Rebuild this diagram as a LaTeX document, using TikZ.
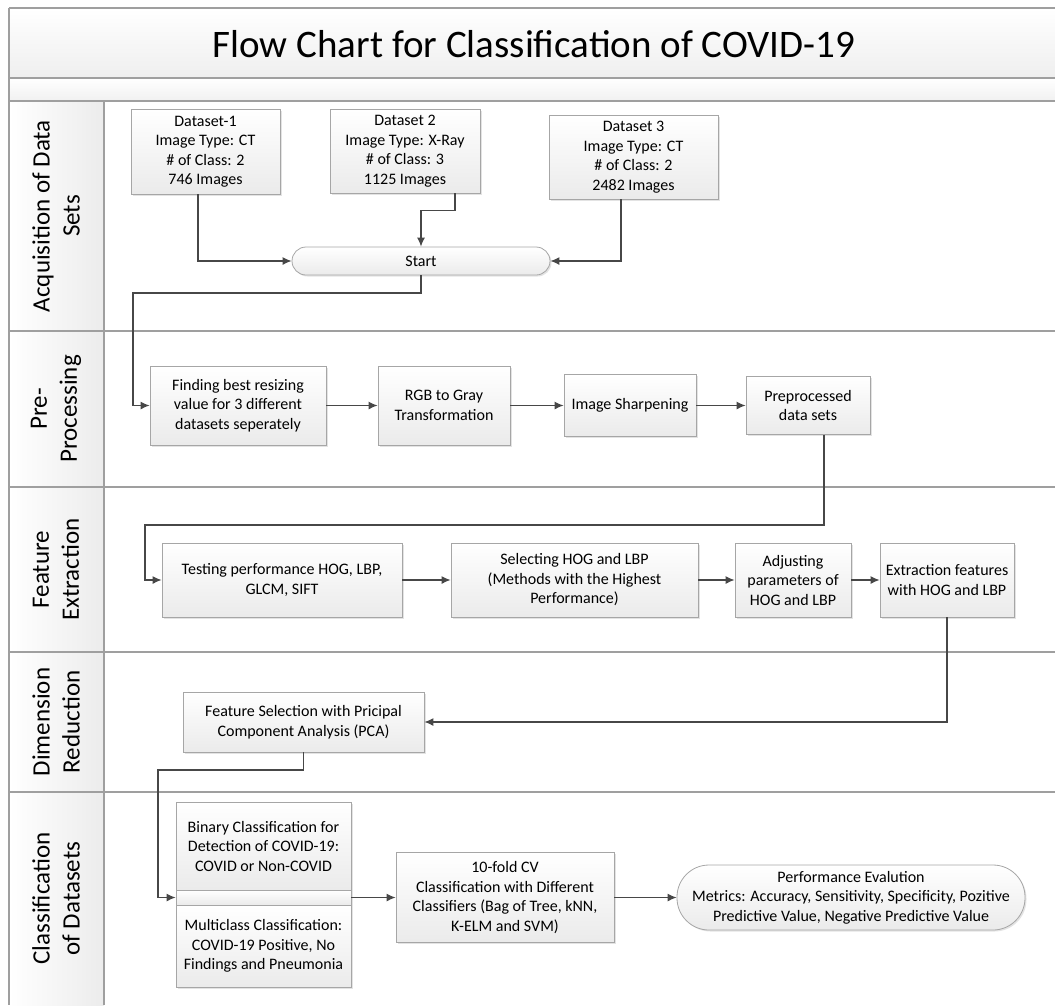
\documentclass[tikz,border=0pt]{standalone}
\usepackage{fontspec}
\setmainfont{Carlito}
\usetikzlibrary{arrows.meta,shadows}
\begin{document}
\begin{tikzpicture}[x=1pt,y=-1pt,
  frameline/.style={draw=gray!75, line width=1.1pt},
  box/.style={draw=gray!70, line width=0.8pt, top color=white, bottom color=gray!16,
    align=center, inner sep=2pt, font=\fontsize{16}{19.5}\selectfont,
    drop shadow={opacity=0.22, shadow xshift=1.5pt, shadow yshift=-1.5pt}},
  term/.style={box},
  conn/.style={draw=black!72, line width=1.2pt},
  arr/.style={conn, -{Latex[length=9pt,width=8pt]}},
  lane/.style={rotate=90, align=center, font=\fontsize{25}{30}\selectfont}
]
\useasboundingbox (0,0) rectangle (1055,1005);
% frame and lanes
\shade[top color=white, bottom color=gray!13] (9,8) rectangle (1055,78);
\shade[top color=white, bottom color=gray!11] (9,78) rectangle (1055,101);
\shade[left color=white, right color=gray!15] (9,101) rectangle (104,1005);
\foreach \yy in {8,78,101,331,487,652,792} \draw[frameline] (9,\yy) -- (1055,\yy);
\draw[frameline] (9,8) -- (9,1005);
\draw[frameline] (104,101) -- (104,1005);
\node[font=\fontsize{39}{45}\selectfont] (title) at (534,44) {Flow Chart for Classification of COVID-19};
\node[lane] (l1) at (56,216) {Acquisition of Data\\Sets};
\node[lane] (l2) at (56,409) {Pre-\\Processing};
\node[lane] (l3) at (56,569.5) {Feature\\Extraction};
\node[lane] (l4) at (56,722) {Dimension\\Reduction};
\node[lane] (l5) at (56,898.5) {Classification\\of Datasets};
% nodes
\node[box, minimum width=149pt, minimum height=85pt] (d1) at (205.5,151.5) {Dataset-1\\Image Type: CT\\\# of Class: 2\\746 Images};
\node[box, minimum width=150pt, minimum height=84pt] (d2) at (405,151) {Dataset 2\\Image Type: X-Ray\\\# of Class: 3\\1125 Images};
\node[box, minimum width=169pt, minimum height=84pt] (d3) at (633.5,157) {Dataset 3\\Image Type: CT\\\# of Class: 2\\2482 Images};
\node[term, minimum width=258pt, minimum height=28pt, rounded corners=14pt] (start) at (421,261) {Start};
\node[box, minimum width=176pt, minimum height=79pt] (find) at (238,405.5) {Finding best resizing\\value for 3 different\\datasets seperately};
\node[box, minimum width=132pt, minimum height=79pt] (rgb) at (444,405.5) {RGB to Gray\\Transformation};
\node[box, minimum width=132pt, minimum height=62pt] (sharp) at (630,405.5) {Image Sharpening};
\node[box, minimum width=124pt, minimum height=58pt] (prep) at (808,405.5) {Preprocessed\\data sets};
\node[box, minimum width=240pt, minimum height=74pt] (test) at (282,580) {Testing performance HOG, LBP,\\GLCM, SIFT};
\node[box, minimum width=247pt, minimum height=74pt] (sel) at (574.5,580) {Selecting HOG and LBP\\(Methods with the Highest\\Performance)};
\node[box, minimum width=116pt, minimum height=74pt] (adj) at (793,580) {Adjusting\\parameters of\\HOG and LBP};
\node[box, minimum width=134pt, minimum height=74pt] (ext) at (947,580) {Extraction features\\with HOG and LBP};
\node[box, minimum width=241pt, minimum height=60pt] (pca) at (303.5,722) {Feature Selection with Pricipal\\Component Analysis (PCA)};
\node[box, minimum width=175pt, minimum height=88pt] (bin) at (263.5,846) {Binary Classification for\\Detection of COVID-19:\\COVID or Non-COVID};
\node[box, minimum width=175pt, minimum height=15pt, inner sep=0pt] (band) at (263.5,897.5) {};
\node[box, minimum width=175pt, minimum height=82pt] (multi) at (263.5,946) {Multiclass Classification:\\COVID-19 Positive, No\\Findings and Pneumonia};
\node[box, minimum width=218pt, minimum height=90pt] (cv) at (505,897.5) {10-fold CV\\Classification with Different\\Classifiers (Bag of Tree, kNN,\\K-ELM and SVM)};
\node[term, minimum width=348pt, minimum height=65pt, rounded corners=32pt] (perf) at (851,897.5) {Performance Evalution\\Metrics: Accuracy, Sensitivity, Specificity, Pozitive\\Predictive Value, Negative Predictive Value};
% bend points
\coordinate (b1) at (133,293);
\coordinate (b2) at (145,525);
\coordinate (b3) at (158,770);
% connectors
\draw[arr] ([xshift=-7.5pt]d1.south) |- (start.west);
\draw[arr] ([xshift=50pt]d2.south) -- ++(0,17) -| (start.north);
\draw[arr] ([xshift=-12.5pt]d3.south) |- (start.east);
\draw[arr] (start.south) |- (b1) |- (find.west);
\draw[arr] (find) -- (rgb);
\draw[arr] (rgb.east) -- (sharp.west);
\draw[arr] (sharp) -- (prep);
\draw[arr] ([xshift=16pt]prep.south) |- (b2) |- (test.west);
\draw[arr] (test) -- (sel);
\draw[arr] (sel) -- (adj);
\draw[arr] (adj) -- (ext);
\draw[arr] (ext.south) |- (pca.east);
\draw[arr] (pca.south) |- (b3) |- (band.west);
\draw[arr] (band.east) -- (cv.west);
\draw[arr] (cv.east) -- (perf.west);
\end{tikzpicture}
\end{document}
